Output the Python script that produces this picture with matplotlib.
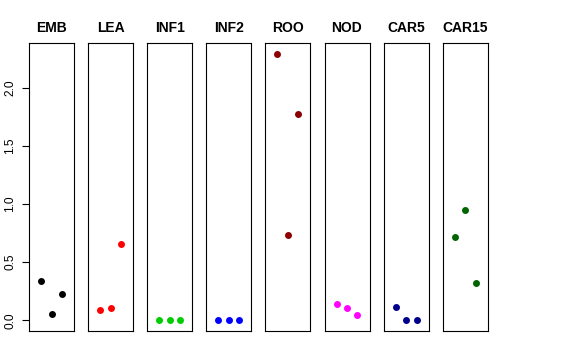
import matplotlib
matplotlib.use("Agg")
import matplotlib.pyplot as plt

plt.rcParams['font.family'] = ['Liberation Sans', 'DejaVu Sans']

# tissue groups and their three replicate values
groups = ['EMB', 'LEA', 'INF1', 'INF2', 'ROO', 'NOD', 'CAR5', 'CAR15']
values = {
    'EMB':   [0.338, 0.057, 0.226],
    'LEA':   [0.086, 0.109, 0.657],
    'INF1':  [0.0, 0.0, 0.0],
    'INF2':  [0.0, 0.0, 0.0],
    'ROO':   [2.292, 0.734, 1.776],
    'NOD':   [0.140, 0.109, 0.046],
    'CAR5':  [0.118, 0.0, 0.0],
    'CAR15': [0.717, 0.947, 0.318],
}
colors = ['black', 'red', '#00CD00', 'blue', '#8B0000', 'magenta', '#00008B', '#006400']
replicates = [1, 2, 3]
yticks = [0.0, 0.5, 1.0, 1.5, 2.0]

W, H = 576, 360
fig = plt.figure(figsize=(W / 100, H / 100), dpi=100)

ymax = max(max(v) for v in values.values())
ylim = (-0.04 * ymax, 1.04 * ymax)

left0, step, pw = 29, 59.1, 45
top, bottom = 43, 331

for i, g in enumerate(groups):
    x0 = left0 + i * step
    ax = fig.add_axes([x0 / W, (H - bottom) / H, pw / W, (bottom - top) / H])
    ax.plot(replicates, values[g], 'o', color=colors[i], markersize=5, markeredgewidth=0)
    ax.set_xlim(-0.16, 4.16)
    ax.set_ylim(*ylim)
    ax.set_xticks([])
    for s in ax.spines.values():
        s.set_linewidth(0.8)
        s.set_color('black')
    ax.set_title(g, fontsize=10, fontweight='bold', pad=8)
    if i == 0:
        ax.set_yticks(yticks)
        ax.set_yticklabels(['%.1f' % t for t in yticks], rotation=90, va='center', fontsize=8.6)
        ax.tick_params(axis='y', length=5, width=0.8, pad=4)
    else:
        ax.set_yticks([])

fig.savefig('out.png', dpi=100)
